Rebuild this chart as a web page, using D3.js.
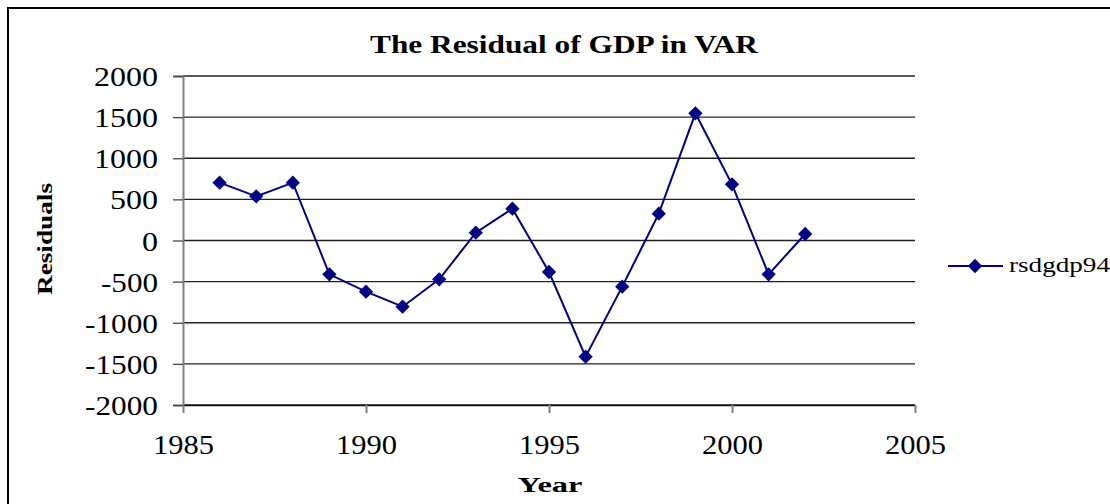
<!DOCTYPE html>
<html><head><meta charset="utf-8">
<script src="https://cdn.jsdelivr.net/npm/d3@7"></script>
<style>body{margin:0;background:#fff}svg{display:block}text{font-family:"Liberation Serif","Times New Roman",Times,serif}</style>
</head><body>
<svg id="c" width="1110" height="504"></svg>
<script>
const years = [1986,1987,1988,1989,1990,1991,1992,1993,1994,1995,1996,1997,1998,1999,2000,2001,2002];
const rsdgdp94 = [703,537,703,-411,-622,-805,-472,95,387,-383,-1413,-561,326,1546,683,-411,79];
const xTicks = [1985,1990,1995,2000,2005];
const yTicks = [-2000,-1500,-1000,-500,0,500,1000,1500,2000];
const seriesName = "rsdgdp94";
const titleText = "The Residual of GDP in VAR";

const svg = d3.select("#c");
function fitWidth(sel, w){ sel.attr("textLength", w).attr("lengthAdjust","spacingAndGlyphs"); }

// frame
svg.append("rect").attr("x",8).attr("y",8).attr("width",1120).attr("height",520)
  .attr("fill","none").attr("stroke","#000").attr("stroke-width",2);

const x = d3.scaleLinear().domain([1985,2005]).range([183,915]);
const y = d3.scaleLinear().domain([-2000,2000]).range([405,76]);

// gridlines
svg.append("g").selectAll("line").data(yTicks).join("line")
  .attr("x1",x(1985)).attr("x2",x(2005)).attr("y1",d=>y(d)).attr("y2",d=>y(d))
  .attr("stroke","#222").attr("stroke-width",1.3);

const fmt = d => String(d);

// y axis
const ya = svg.append("g").attr("transform",`translate(${x(1985)},0)`)
  .call(d3.axisLeft(y).tickValues(yTicks).tickSize(10).tickPadding(15).tickFormat(fmt));
ya.select(".domain").attr("stroke","#808080").attr("stroke-width",2);
ya.selectAll(".tick line").attr("stroke","#444").attr("stroke-width",1.3);
ya.selectAll("text").attr("font-family",null).attr("font-size",26.5).attr("fill","#000").attr("dy","0.36em")
  .each(function(d){ const s=String(Math.abs(d)); d3.select(this).attr("textLength", s.length*16 + (d<0?9:0)).attr("lengthAdjust","spacingAndGlyphs"); });

// x axis
const xa = svg.append("g").attr("transform",`translate(0,${y(-2000)})`)
  .call(d3.axisBottom(x).tickValues(xTicks).tickSize(8).tickSizeOuter(0).tickPadding(22).tickFormat(fmt));
xa.select(".domain").attr("stroke","#111").attr("stroke-width",1.5);
xa.selectAll(".tick line").attr("stroke","#808080").attr("stroke-width",2);
xa.selectAll("text").attr("font-family",null).attr("font-size",26.5).attr("fill","#000");
fitWidth(xa.selectAll("text"), 61);

// line
const line = d3.line().x((d,i)=>x(years[i])).y(d=>y(d));
svg.append("path").datum(rsdgdp94).attr("d",line).attr("fill","none").attr("stroke","#000080").attr("stroke-width",2);
const diamond = d3.symbol().type(d3.symbolDiamond2).size(130);
svg.append("g").selectAll("path").data(rsdgdp94).join("path")
  .attr("d",diamond).attr("transform",(d,i)=>`translate(${x(years[i])},${y(d)})`).attr("fill","#000080");

// title
const t = svg.append("text").attr("x",564).attr("y",53).attr("text-anchor","middle")
  .attr("font-weight","bold").attr("font-size",25.5).text(titleText);
fitWidth(t, 388);

// axis titles
const xt = svg.append("text").attr("x",550).attr("y",492).attr("text-anchor","middle")
  .attr("font-weight","bold").attr("font-size",22).text("Year");
fitWidth(xt, 65);
const yt = svg.append("text").attr("transform","translate(52,239) rotate(-90)").attr("text-anchor","middle")
  .attr("font-weight","bold").attr("font-size",22).text("Residuals");
fitWidth(yt, 112);

// legend
svg.append("line").attr("x1",948).attr("x2",1003).attr("y1",266).attr("y2",266).attr("stroke","#000080").attr("stroke-width",2);
svg.append("path").attr("d",diamond).attr("transform","translate(975,266)").attr("fill","#000080");
const lt = svg.append("text").attr("x",1009).attr("y",272).attr("font-size",21).text(seriesName);
fitWidth(lt, 101);
</script>
</body></html>
